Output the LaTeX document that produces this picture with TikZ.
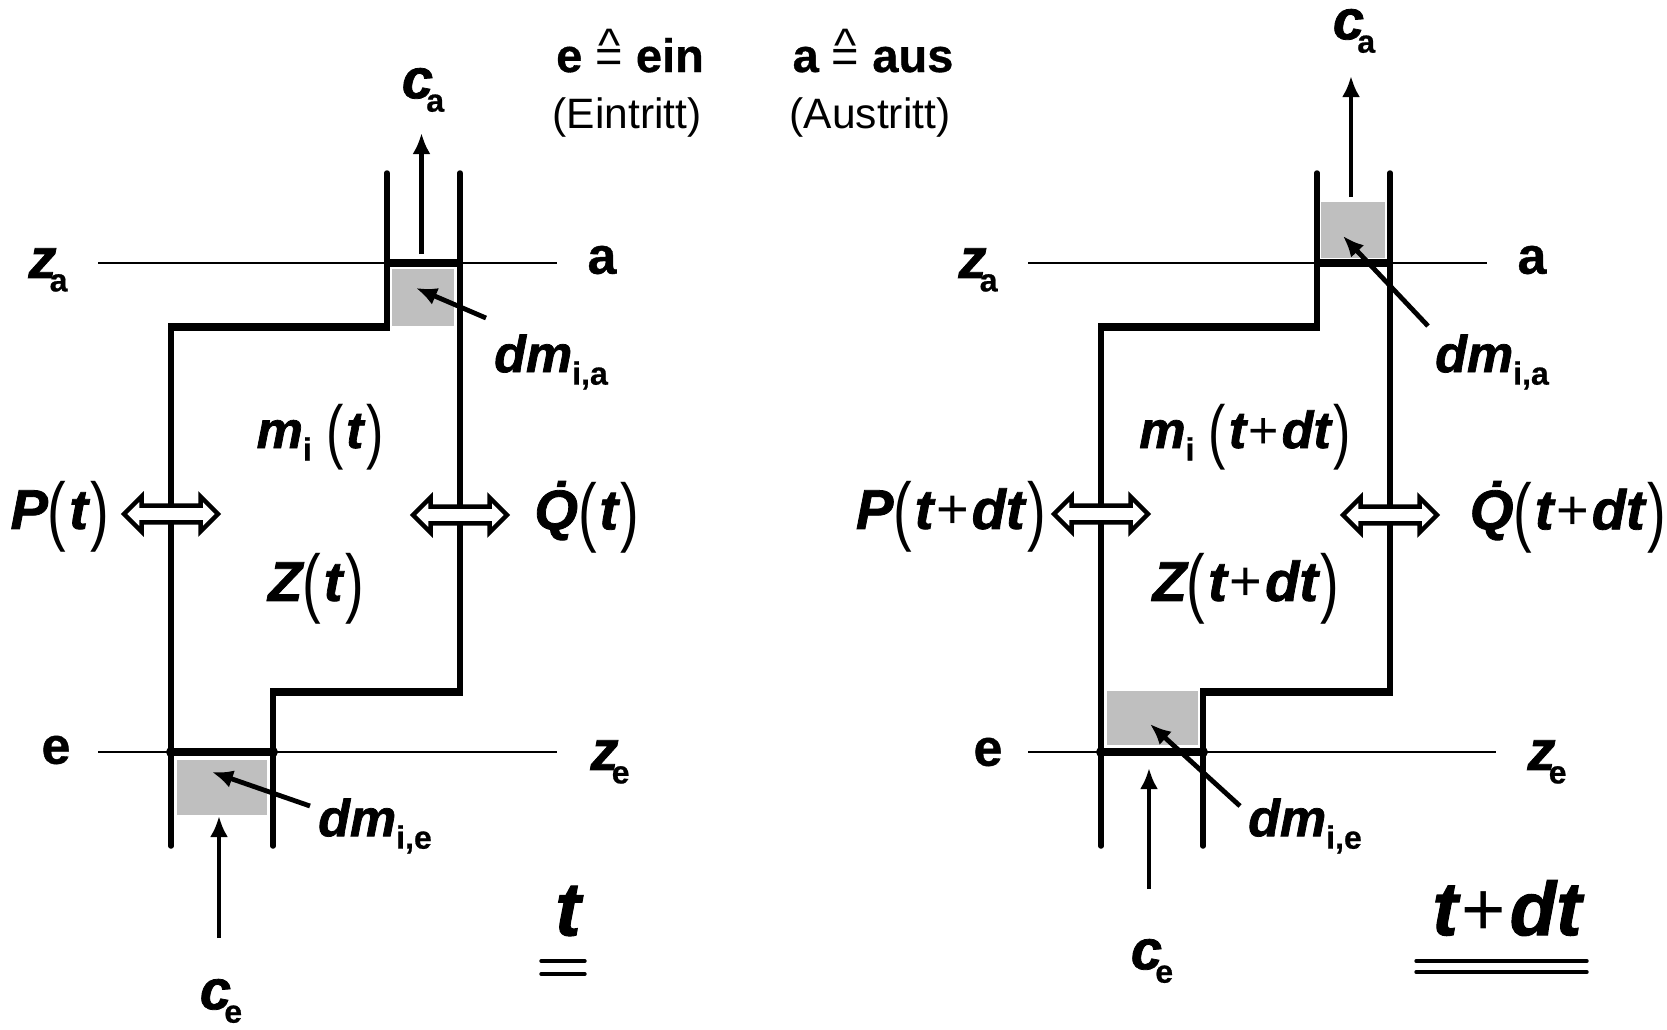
\documentclass[tikz,border=0pt]{standalone}
\usepackage{fontspec}
\usepackage{graphicx}
\setmainfont{Liberation Sans}[BoldItalicFeatures={FakeBold=1.4},BoldFeatures={FakeBold=0.7}]
\usetikzlibrary{shapes.arrows,arrows.meta}
\newcommand{\lab}[1]{\fontsize{#1}{#1}\selectfont}
\newcommand{\bi}{\bfseries\itshape}
% tall thin brackets, stretched from the upright face
\newcommand{\lpar}{{\mdseries\upshape\raisebox{-0.14em}{\scalebox{1}[1.36]{(}}\kern.05em}}
\newcommand{\rpar}{{\kern.05em\mdseries\upshape\raisebox{-0.14em}{\scalebox{1}[1.36]{)}}}}
\newcommand{\plus}{{\mdseries\upshape\kern.05em+\kern.05em}}
\newcommand{\subs}[1]{\raisebox{-0.24em}{\upshape\bfseries\lab{32}#1}}
\newcommand{\hateq}{{\mdseries\ooalign{=\cr\hidewidth\raisebox{.23em}{\textasciicircum}\hidewidth\cr}}}
\tikzset{
  wall/.style={line width=5.5pt, line cap=round},
  thick wall/.style={line width=7.5pt},
  level/.style={line width=2.4pt},
  flow/.style={line width=4.8pt, -{Latex[length=21pt,width=18pt]}},
  parcel/.style={fill=black!25, draw=none},
  heat/.style={shape=double arrow, draw=black, fill=white, line width=4.5pt, minimum height=94pt,
    minimum width=35pt, double arrow head extend=9pt, inner sep=0pt, inner ysep=6pt},
  lbl/.style={inner sep=0pt, font=\bi\lab{52}},
  lbl wide/.style={inner sep=0pt, font=\bi\lab{56}},
  word/.style={inner sep=0pt, font=\bfseries\lab{52}},
  head/.style={inner sep=0pt, anchor=base, font=\bfseries\lab{47}},
  lbl big/.style={inner sep=0pt, font=\bi\lab{76}},
  rem/.style={inner sep=0pt, anchor=base, font=\lab{42.5}}
}
\begin{document}
\begin{tikzpicture}[x=1pt,y=-1pt]
  \useasboundingbox (0,0) rectangle (1667,1029);
  \fill[white] (0,0) rectangle (1667,1029);
  % state at t
  \draw[level] (98,263) -- (557,263);
  \draw[level] (98,752) -- (557,752);
  \fill[parcel] (392,269) rectangle (454,326);
  \fill[parcel] (177,760) rectangle (267,815);
  \draw[wall] (387,173) -- (387,327);
  \draw[wall] (460,173) -- (460,692);
  \draw[wall] (171,327) -- (171,846);
  \draw[wall] (273,692) -- (273,846);
  \draw[thick wall] (387,263) -- (460,263);
  \draw[thick wall] (168,327) -- (390,327);
  \draw[thick wall] (270,692) -- (463,692);
  \draw[thick wall] (171,752) -- (273,752);
  \fill (171,752) circle (5);
  \fill (273,752) circle (5);
  % state at t+dt
  \draw[level] (1028,263) -- (1487,263);
  \draw[level] (1028,752) -- (1496,752);
  \fill[parcel] (1321,202) rectangle (1385,258);
  \fill[parcel] (1107,691) rectangle (1198,745);
  \draw[wall] (1317,173) -- (1317,327);
  \draw[wall] (1390,173) -- (1390,692);
  \draw[wall] (1101,327) -- (1101,846);
  \draw[wall] (1203,692) -- (1203,846);
  \draw[thick wall] (1317,263) -- (1390,263);
  \draw[thick wall] (1098,327) -- (1320,327);
  \draw[thick wall] (1200,692) -- (1393,692);
  \draw[thick wall] (1101,752) -- (1203,752);
  \fill (1101,752) circle (5);
  \fill (1203,752) circle (5);
  % work and heat
  \node[heat] (pl) at (171,514) {};
  \node[heat] (ql) at (460,515) {};
  \node[heat] (pr) at (1101,514) {};
  \node[heat] (qr) at (1390,515) {};
  % text
  \node[lbl wide] (cal) at (423,90) {c\kern-.12em\subs{a}};
  \node[lbl wide] (cel) at (221,1001) {c\kern-.12em\subs{e}};
  \node[lbl wide] (car) at (1354,31) {c\kern-.12em\subs{a}};
  \node[lbl wide] (cer) at (1152,961) {c\kern-.12em\subs{e}};
  \node[lbl wide] (zal) at (48,270) {z\kern-.12em\subs{a}};
  \node[lbl wide] (zar) at (978,270) {z\kern-.12em\subs{a}};
  \node[lbl wide] (zel) at (610,762) {z\kern-.12em\subs{e}};
  \node[lbl wide] (zer) at (1547,762) {z\kern-.12em\subs{e}};
  \node[word] (al) at (602,260) {a};
  \node[word] (ar) at (1532,260) {a};
  \node[word] (el) at (56,750) {e};
  \node[word] (er) at (988,752) {e};
  \node[lbl] (dmal) at (551,362) {dm\subs{i,a}};
  \node[lbl] (dmar) at (1492,362) {dm\subs{i,a}};
  \node[lbl] (dmel) at (375,826) {dm\subs{i,e}};
  \node[lbl] (dmer) at (1305,826) {dm\subs{i,e}};
  \node[lbl] (ml) at (320,437) {m\subs{i} \lpar t\rpar};
  \node[lbl] (mr) at (1245,437) {m\subs{i} \lpar t\plus dt\rpar};
  \node[lbl wide] (zl) at (316,589) {Z\lpar t\rpar};
  \node[lbl wide] (zr) at (1246,589) {Z\lpar t\plus dt\rpar};
  \node[lbl wide] (plab) at (60,517) {P\lpar t\rpar};
  \node[lbl wide] (prab) at (951,517) {P\lpar t\plus dt\rpar};
  \node[lbl wide] (qlab) at (587,517) {\.Q\lpar t\rpar};
  \node[lbl wide] (qrab) at (1568,517) {\.Q\lpar t\plus dt\rpar};
  \node[head] (ein) at (630,72) {e \hateq\ ein};
  \node[head] (aus) at (873,72) {a \hateq\ aus};
  \node[rem] (eint) at (627,128) {(Eintritt)};
  \node[rem] (aust) at (870,128) {(Austritt)};
  \node[lbl big] (tl) at (568,911) {t};
  \node[lbl big] (tr) at (1507,908) {t\plus dt};
  % flows
  \coordinate (tipcal) at (421.5,133);
  \coordinate (tailcal) at (421.5,254);
  \draw[flow] (tailcal) -- (tipcal);
  \coordinate (tipcel) at (219,816);
  \coordinate (tailcel) at (219,938);
  \draw[flow] (tailcel) -- (tipcel);
  \coordinate (tipcar) at (1351,76);
  \coordinate (tailcar) at (1351,197);
  \draw[flow] (tailcar) -- (tipcar);
  \coordinate (tipcer) at (1149,768);
  \coordinate (tailcer) at (1149,889);
  \draw[flow] (tailcer) -- (tipcer);
  \coordinate (tipdmal) at (416,288);
  \coordinate (taildmal) at (486,318);
  \draw[flow] (taildmal) -- (tipdmal);
  \coordinate (tipdmel) at (212,772);
  \coordinate (taildmel) at (310,806);
  \draw[flow] (taildmel) -- (tipdmel);
  \coordinate (tipdmar) at (1343,236);
  \coordinate (taildmar) at (1428,326);
  \draw[flow] (taildmar) -- (tipdmar);
  \coordinate (tipdmer) at (1150,724);
  \coordinate (taildmer) at (1240,806);
  \draw[flow] (taildmer) -- (tipdmer);
  % underlines
  \draw[line width=3.4pt, line cap=round] (541,961) -- (585,961);
  \draw[line width=3.4pt, line cap=round] (541,974) -- (585,974);
  \draw[line width=3.4pt, line cap=round] (1416,961) -- (1587,961);
  \draw[line width=3.4pt, line cap=round] (1416,972) -- (1587,972);
\end{tikzpicture}
\end{document}
